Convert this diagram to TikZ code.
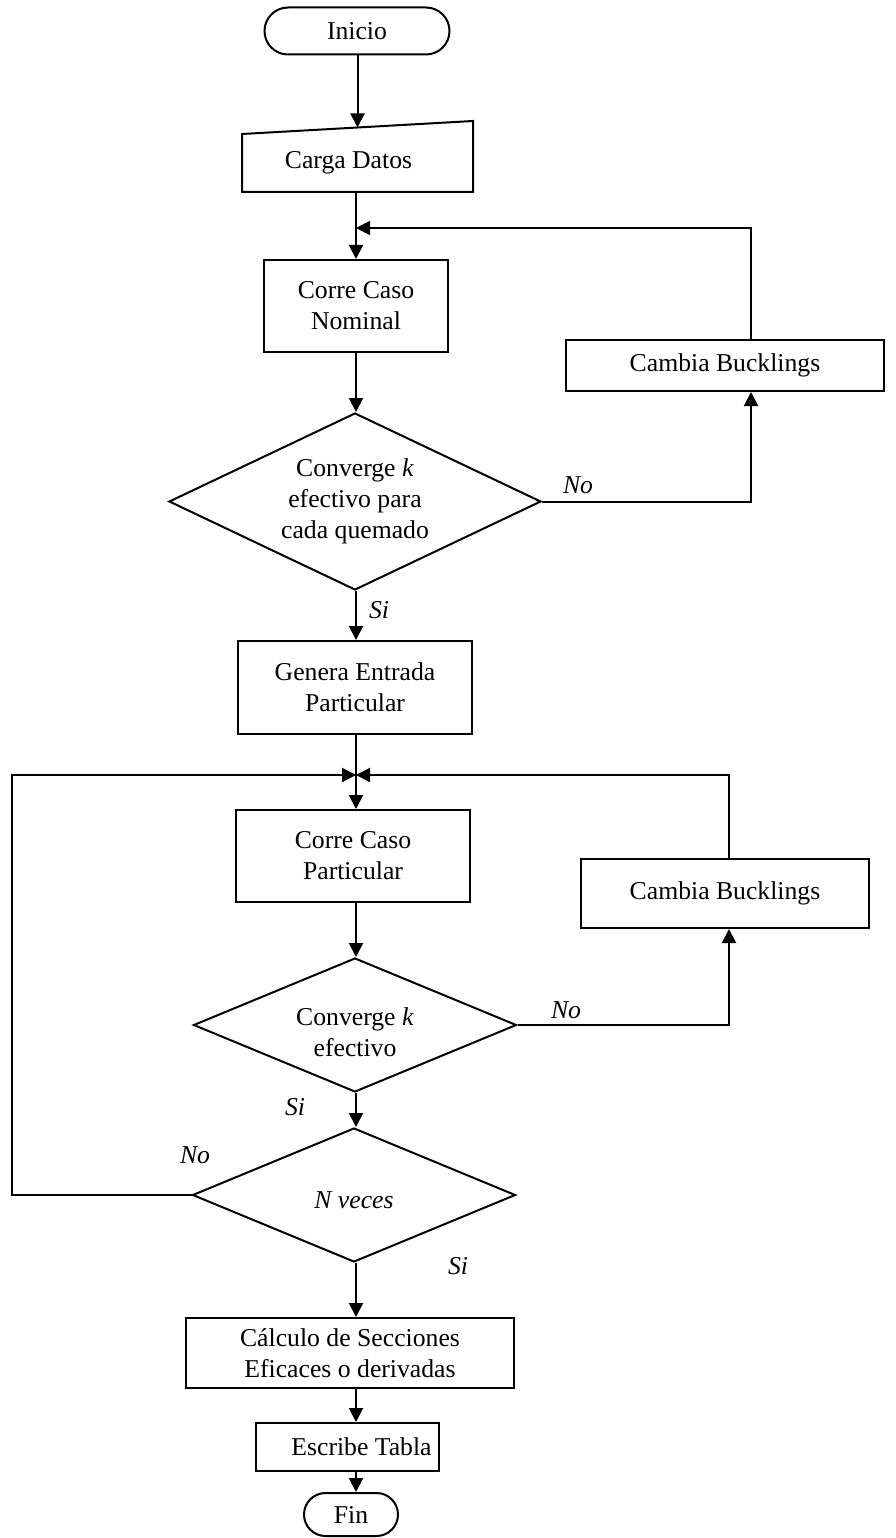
\documentclass[tikz,border=0pt]{standalone}
\usepackage{fontspec}
\setmainfont{Liberation Serif}
\usetikzlibrary{shapes.geometric,shapes.misc,arrows.meta,calc}
\begin{document}
\begin{tikzpicture}[x=1pt,y=-1pt,
  font=\fontsize{25.7}{31}\selectfont,
  line width=2pt,
  box/.style={draw,rectangle,align=center,inner sep=0pt,line width=2pt},
  dec/.style={draw,diamond,align=center,inner sep=0pt,line width=2pt},
  term/.style={draw,rounded rectangle,inner sep=0pt,line width=2pt},
  txt/.style={align=center,inner sep=0pt},
  lab/.style={font=\fontsize{25.7}{31}\selectfont\itshape,inner sep=0pt},
  arr/.style={line width=2pt,-{Triangle[length=14pt,width=14pt]}}]
\useasboundingbox (0,0) rectangle (895,1538);
\coordinate (col) at (356,0);
\coordinate (c1) at (751,0);
\coordinate (c2) at (729,0);
\coordinate (j1) at (356,228);
\coordinate (j2) at (356,775);
\coordinate (lx) at (12,775);
% nodes
\node[term,minimum width=185pt,minimum height=47pt] (inicio) at (357,31) {Inicio};
\node[rectangle,inner sep=0pt,minimum width=229pt,minimum height=56pt] (carga) at (357.5,163) {\hspace*{-18pt}Carga Datos};
\draw[line width=2pt] (carga.north west) -- (carga.south west) -- (carga.south east) -- ([yshift=13pt]carga.north east) -- cycle;
\coordinate (cargatop) at ($(carga.north west)!0.5!([yshift=13pt]carga.north east)$);
\node[box,minimum width=184pt,minimum height=92pt] (nominal) at (356,306) {Corre Caso\\Nominal};
\node[dec,minimum width=372pt,minimum height=177pt,shape aspect=2.1] (d1) at (355,501.5) {Converge \textit{k}\\efectivo para\\cada quemado};
\node[box,minimum width=318pt,minimum height=51pt] (cb1) at (725,365.5) {Cambia Bucklings};
\node[box,minimum width=234pt,minimum height=93pt] (genera) at (355,687.5) {Genera Entrada\\Particular};
\node[box,minimum width=234pt,minimum height=92pt] (particular) at (353,856) {Corre Caso\\Particular};
\node[box,minimum width=288pt,minimum height=69pt] (cb2) at (725,893.5) {Cambia Bucklings};
\node[dec,minimum width=323pt,minimum height=134pt,shape aspect=2.4] (d2) at (355,1025) {};
\node[txt] (d2t) at (355,1032) {Converge \textit{k}\\efectivo};
\node[dec,minimum width=323pt,minimum height=134pt,shape aspect=2.4] (d3) at (354,1195) {};
\node[txt] (d3t) at (354,1200) {\itshape N veces};
\node[box,minimum width=328pt,minimum height=70pt] (cal) at (350,1353) {Cálculo de Secciones\\Eficaces o derivadas};
\node[box,minimum width=183pt,minimum height=48pt] (esc) at (347.5,1447) {\hspace*{28pt}Escribe Tabla};
\node[term,minimum width=94pt,minimum height=43pt] (fin) at (351,1514.5) {Fin};
% labels
\node[lab] (no1) at (578,485) {No};
\node[lab] (si1) at (379,610) {Si};
\node[lab] (no2) at (566,1010) {No};
\node[lab] (si2) at (295,1107) {Si};
\node[lab] (no3) at (195,1155) {No};
\node[lab] (si3) at (458,1266) {Si};
% main column
\draw[arr] (inicio.south -| cargatop) -- (cargatop);
\draw[arr] (carga.south -| col) -- (nominal.north -| col);
\draw[arr] (nominal.south -| col) -- (d1.north -| col);
\draw[arr] (d1.south -| col) -- (genera.north -| col);
\draw[arr] (genera.south -| col) -- (particular.north -| col);
\draw[arr] (particular.south -| col) -- (d2.north -| col);
\draw[arr] (d2.south -| col) -- (d3.north -| col);
\draw[arr] (d3.south -| col) -- (cal.north -| col);
\draw[arr] (cal.south -| col) -- (esc.north -| col);
\draw[arr] (esc.south -| col) -- (fin.north -| col);
% loops
\draw[arr] (d1.east) -| (cb1.south -| c1);
\draw[arr] (cb1.north -| c1) |- (j1);
\draw[arr] (d2.east) -| (cb2.south -| c2);
\draw[arr] (cb2.north -| c2) |- (j2);
\draw[arr] (d3.west) -| (lx) -- (j2);
\end{tikzpicture}
\end{document}
